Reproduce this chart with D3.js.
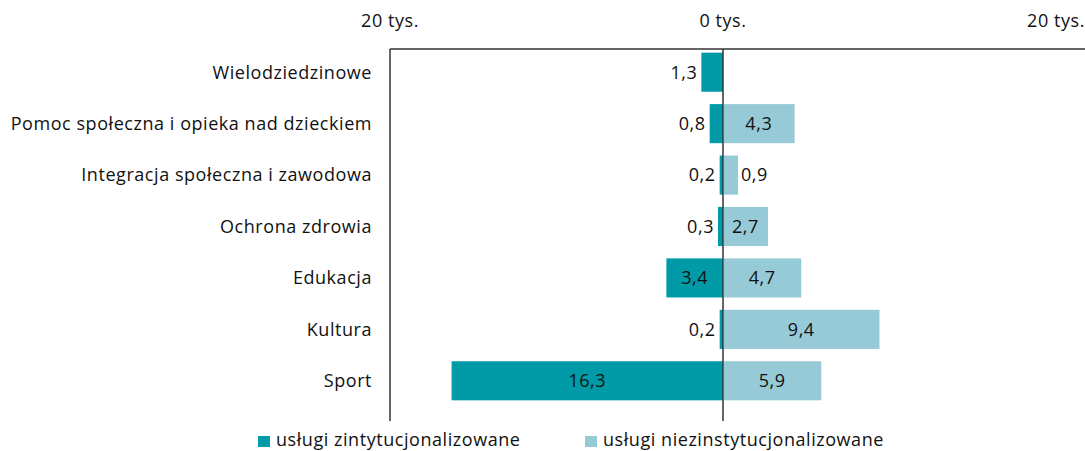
<!DOCTYPE html>
<html>
<head>
<meta charset="utf-8">
<script src="https://cdn.jsdelivr.net/npm/d3@7"></script>
<style>
  body { margin: 0; background: #fff; }
  svg text { font-family: "Open Sans", sans-serif; fill: #111; letter-spacing: 0.55px; }
</style>
</head>
<body>
<svg id="chart" width="1085" height="451"></svg>
<script>
var categories = ['Wielodziedzinowe', 'Pomoc społeczna i opieka nad dzieckiem',
  'Integracja społeczna i zawodowa', 'Ochrona zdrowia', 'Edukacja', 'Kultura', 'Sport'];
var instValues = [1.3, 0.8, 0.2, 0.3, 3.4, 0.2, 16.3];
var nonInstValues = [null, 4.3, 0.9, 2.7, 4.7, 9.4, 5.9];
var tickValues = [-20, 0, 20];
var seriesNames = ['usługi zintytucjonalizowane', 'usługi niezinstytucjonalizowane'];
var colors = ['#009ba6', '#96cad6'];

var svg = d3.select('#chart');
var fontSize = 18;

var x = d3.scaleLinear().domain([-20, 20]).range([390, 1056]);
var y = d3.scaleBand().domain(categories).range([46.5, 406.5]).paddingInner(0.24).paddingOuter(0.12);

var fmt = function (v) { return String(v).replace('.', ','); };

// axis -------------------- //
svg.append('line')
  .attr('x1', x(-20)).attr('x2', 1085)
  .attr('y1', 49).attr('y2', 49)
  .attr('stroke', '#333').attr('stroke-width', 1.5);

svg.selectAll('.tick')
  .data(tickValues)
  .enter()
  .append('text')
  .attr('class', 'tick')
  .attr('x', function (d) { return x(d); })
  .attr('y', 27)
  .attr('text-anchor', 'middle')
  .style('font-size', fontSize + 'px')
  .text(function (d) { return Math.abs(d) + ' tys.'; });

// category labels
svg.selectAll('.cat')
  .data(categories)
  .enter()
  .append('text')
  .attr('class', 'cat')
  .attr('x', 372)
  .attr('y', function (d) { return y(d) + y.bandwidth() / 2; })
  .attr('dy', '0.35em')
  .attr('text-anchor', 'end')
  .style('font-size', fontSize + 'px')
  .text(function (d) { return d; });

// bars -------------------- //
var rows = categories.map(function (c, i) {
  return { cat: c, inst: instValues[i], non: nonInstValues[i] };
});

svg.selectAll('.bar-inst')
  .data(rows)
  .enter()
  .append('rect')
  .attr('class', 'bar-inst')
  .attr('x', function (d) { return x(-d.inst); })
  .attr('y', function (d) { return y(d.cat); })
  .attr('width', function (d) { return x(0) - x(-d.inst); })
  .attr('height', y.bandwidth())
  .attr('fill', colors[0]);

svg.selectAll('.bar-non')
  .data(rows.filter(function (d) { return d.non != null; }))
  .enter()
  .append('rect')
  .attr('class', 'bar-non')
  .attr('x', x(0) + 1)
  .attr('y', function (d) { return y(d.cat); })
  .attr('width', function (d) { return x(d.non) - x(0) - 1; })
  .attr('height', y.bandwidth())
  .attr('fill', colors[1]);

// value labels
var minInside = 36;
svg.selectAll('.val-inst')
  .data(rows)
  .enter()
  .append('text')
  .attr('class', 'val-inst')
  .attr('x', function (d) {
    var w = x(0) - x(-d.inst);
    return w > minInside ? x(-d.inst / 2) : x(-d.inst) - 4;
  })
  .attr('y', function (d) { return y(d.cat) + y.bandwidth() / 2; })
  .attr('dy', '0.35em')
  .attr('text-anchor', function (d) {
    return (x(0) - x(-d.inst)) > minInside ? 'middle' : 'end';
  })
  .style('font-size', fontSize + 'px')
  .text(function (d) { return fmt(d.inst); });

svg.selectAll('.val-non')
  .data(rows.filter(function (d) { return d.non != null; }))
  .enter()
  .append('text')
  .attr('class', 'val-non')
  .attr('x', function (d) {
    var w = x(d.non) - x(0);
    return w > minInside ? x(d.non / 2) : x(d.non) + 3;
  })
  .attr('y', function (d) { return y(d.cat) + y.bandwidth() / 2; })
  .attr('dy', '0.35em')
  .attr('text-anchor', function (d) {
    return (x(d.non) - x(0)) > minInside ? 'middle' : 'start';
  })
  .style('font-size', fontSize + 'px')
  .text(function (d) { return fmt(d.non); });

// vertical lines
[x(-20), x(0)].forEach(function (lx) {
  svg.append('line')
    .attr('x1', lx).attr('x2', lx)
    .attr('y1', 49).attr('y2', 421)
    .attr('stroke', '#333').attr('stroke-width', 1.5);
});

// legend -------------------- //
var legendX = [258, 585];
var legend = svg.selectAll('.legend')
  .data(seriesNames)
  .enter()
  .append('g')
  .attr('class', 'legend')
  .attr('transform', function (d, i) { return 'translate(' + legendX[i] + ',441)'; });

legend.append('rect')
  .attr('x', 0).attr('y', -5)
  .attr('width', 12).attr('height', 11)
  .attr('fill', function (d, i) { return colors[i]; });

legend.append('text')
  .attr('x', 18)
  .attr('y', 5)
  .style('font-size', fontSize + 'px')
  .text(function (d) { return d; });
</script>
</body>
</html>
